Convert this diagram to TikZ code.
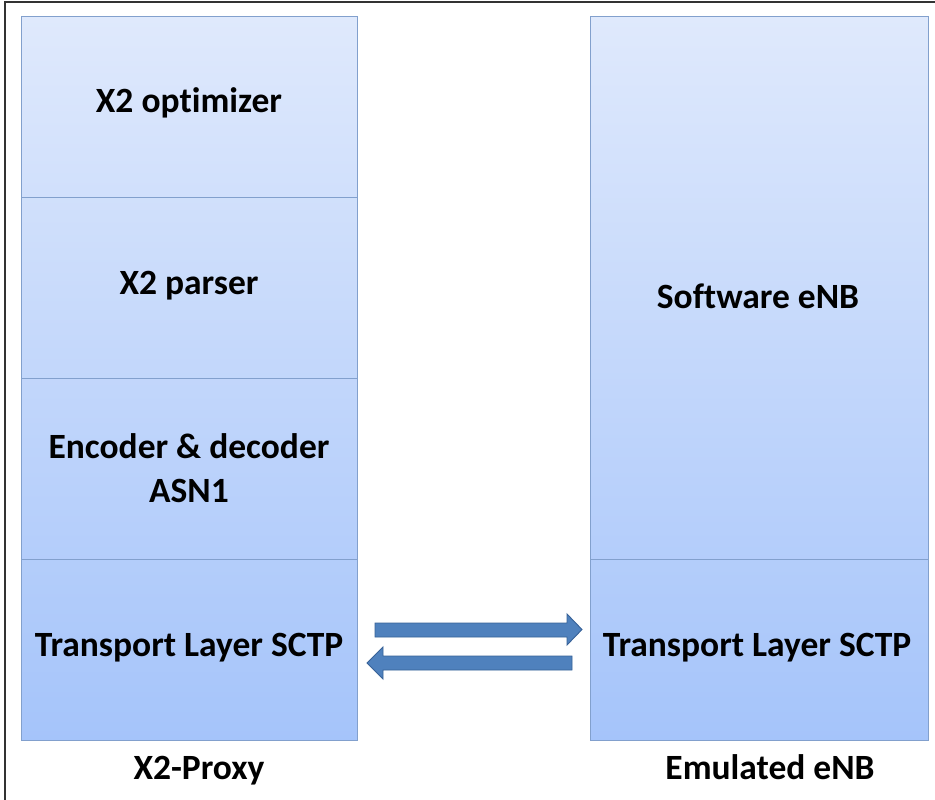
\documentclass[tikz,border=0pt]{standalone}
\usepackage{fontspec}
\setmainfont[Ligatures=NoCommon]{Carlito}
\usetikzlibrary{positioning}
\definecolor{ctop}{RGB}{223,233,252}
\definecolor{cbot}{RGB}{165,196,250}
\colorlet{cA}{cbot!25!ctop}
\colorlet{cB}{cbot!50!ctop}
\colorlet{cC}{cbot!75!ctop}
\definecolor{edge}{RGB}{130,160,205}
\definecolor{arrfill}{RGB}{79,129,189}
\definecolor{arredge}{RGB}{56,98,152}
\tikzset{
  layer/.style={draw=edge, line width=0.9pt, anchor=north west, inner sep=0pt},
  label/.style={font=\fontsize{35.5}{44}\bfseries\selectfont, text=black, anchor=base, inner sep=0pt, align=center},
  blockarrow/.style={fill=arrfill, draw=arredge, line width=0.9pt, line join=miter},
}
\begin{document}
\begin{tikzpicture}[x=1pt,y=-1pt]
\useasboundingbox (0,0) rectangle (935,800);
\fill[white] (0,0) rectangle (935,800);
\draw[line width=1.4pt, black!80] (5,800) -- (5,2) -- (935,2);
% left column
\node[layer, minimum width=336pt, minimum height=181pt, top color=ctop, bottom color=cA] (opt) at (21,16) {};
\node[layer, minimum width=336pt, minimum height=181pt, top color=cA, bottom color=cB] (par) at (21,197) {};
\node[layer, minimum width=336pt, minimum height=181pt, top color=cB, bottom color=cC] (enc) at (21,378) {};
\node[layer, minimum width=336pt, minimum height=181pt, top color=cC, bottom color=cbot] (tl) at (21,559) {};
\node[label] (optt) at (189,112) {X2 optimizer};
\node[label] (part) at (189,294) {X2 parser};
\node[label] (enct) at (189,502) {Encoder \& decoder\\ASN1};
\node[label] (tlt) at (189,656) {Transport Layer SCTP};
% right column
\node[layer, minimum width=338pt, minimum height=543pt, top color=ctop, bottom color=cC] (sw) at (590,16) {};
\node[layer, minimum width=338pt, minimum height=181pt, top color=cC, bottom color=cbot] (tr) at (590,559) {};
\node[label] (swt) at (758,308) {Software eNB};
\node[label] (trt) at (757,656) {Transport Layer SCTP};
% arrows
\draw[blockarrow] (375,623) -- (567,623) -- (567,614) -- (582,629.5) -- (567,645) -- (567,637) -- (375,637) -- cycle;
\draw[blockarrow] (572,656) -- (383,656) -- (383,647) -- (367,663) -- (383,679) -- (383,670) -- (572,670) -- cycle;
% captions
\node[label] (capl) at (199,779) {X2-Proxy};
\node[label] (capr) at (770,779) {Emulated eNB};
\end{tikzpicture}
\end{document}
